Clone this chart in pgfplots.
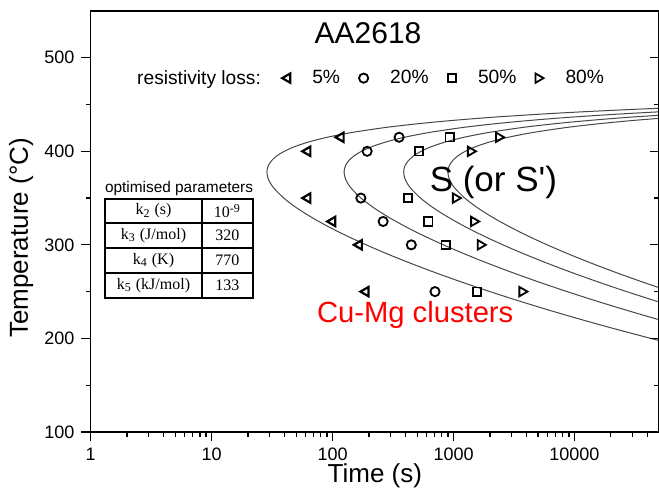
\documentclass[border=0pt]{standalone}
\usepackage{pgfplots}
\pgfplotsset{compat=1.18}
\usepackage{pgfplotstable}
\usepackage{fontspec}
\setmainfont{Liberation Sans}
\newfontfamily\tabfont{Liberation Serif}

% x values are log10(time / s); the axis is labelled 1, 10, 100, ...
% C-curves for 5, 20, 50 and 80 % loss
\pgfplotstableread{
T c1 c2 c3 c4
190 4.9378 5.5763 6.0685 6.4344
200 4.6312 5.2697 5.7619 6.1278
210 4.3389 4.9774 5.4696 5.8355
220 4.0602 4.6987 5.1909 5.5568
230 3.7947 4.4332 4.9254 5.2913
240 3.5417 4.1802 4.6724 5.0383
250 3.3011 3.9396 4.4318 4.7977
260 3.0725 3.7110 4.2032 4.5691
270 2.8557 3.4942 3.9864 4.3523
280 2.6509 3.2894 3.7816 4.1475
290 2.4582 3.0967 3.5889 3.9548
300 2.2779 2.9164 3.4086 3.7745
310 2.1105 2.7490 3.2412 3.6071
320 1.9571 2.5956 3.0878 3.4537
330 1.8190 2.4575 2.9497 3.3156
340 1.6978 2.3363 2.8285 3.1944
350 1.5965 2.2350 2.7272 3.0931
360 1.5188 2.1573 2.6495 3.0154
365 1.4903 2.1288 2.6210 2.9869
370 1.4700 2.1085 2.6007 2.9666
375 1.4589 2.0974 2.5896 2.9555
380 1.4583 2.0968 2.5890 2.9549
385 1.4698 2.1083 2.6005 2.9664
390 1.4956 2.1341 2.6263 2.9922
395 1.5381 2.1766 2.6688 3.0347
400 1.6006 2.2391 2.7313 3.0972
405 1.6871 2.3256 2.8178 3.1837
410 1.8032 2.4417 2.9339 3.2998
415 1.9557 2.5942 3.0864 3.4523
420 2.1541 2.7926 3.2848 3.6507
425 2.4112 3.0497 3.5419 3.9078
427.5 2.5670 3.2055 3.6977 4.0636
430 2.7445 3.3830 3.8752 4.2411
432.5 2.9474 3.5859 4.0781 4.4440
435 3.1793 3.8178 4.3100 4.6759
437 3.3893 4.0278 4.5200 4.8859
440 3.7521 4.3906 4.8828 5.2487
442.5 4.1062 4.7447 5.2369 5.6028
445 4.5171 5.1556 5.6478 6.0137
446 4.7005 5.3390 5.8312 6.1971
447 4.8954 5.5339 6.0261 6.3920
}\ccurves

% measured points
\pgfplotstableread{
lt T
2.069 415
1.794 400
1.794 350
2.000 325
2.220 300
2.275 250
}\lossA
\pgfplotstableread{
lt T
2.550 415
2.286 400
2.234 350
2.418 325
2.651 300
2.847 250
}\lossB
\pgfplotstableread{
lt T
2.968 415
2.715 400
2.624 350
2.791 325
2.935 300
3.195 250
}\lossC
\pgfplotstableread{
lt T
3.374 415
3.141 400
3.017 350
3.168 325
3.223 300
3.567 250
}\lossD

\begin{document}
\begin{tikzpicture}
\begin{axis}[
  name=main,
  scale only axis,
  width=284.2pt, height=210.5pt,
  xmin=0, xmax=4.69897, ymin=100, ymax=550,
  xtick={0,1,2,3,4},
  xticklabels={1,10,100,1000,10000},
  minor xtick={0.30103,0.47712,0.60206,0.69897,0.77815,0.84510,0.90309,0.95424,
    1.30103,1.47712,1.60206,1.69897,1.77815,1.84510,1.90309,1.95424,
    2.30103,2.47712,2.60206,2.69897,2.77815,2.84510,2.90309,2.95424,
    3.30103,3.47712,3.60206,3.69897,3.77815,3.84510,3.90309,3.95424,
    4.30103,4.47712,4.60206},
  ytick={100,200,300,400,500},
  minor ytick={150,250,350,450},
  xtick pos=left, ytick pos=left,
  tick align=outside,
  major tick length=4.6pt, minor tick length=2.3pt,
  tick style={black, line width=0.6pt},
  axis line style={line width=0.6pt},
  /pgf/number format/assume math mode=true,
  tick label style={font=\fontsize{9}{10}\selectfont},
  xlabel={Time (s)},
  ylabel={Temperature (°C)},
  xlabel style={at={(axis description cs:0.5,-0.121)}, anchor=base, font=\fontsize{13}{15}\selectfont},
  ylabel style={at={(axis description cs:-0.1103,0.461)}, anchor=base, font=\fontsize{13}{15}\selectfont},
  legend image code/.code={\draw[#1] plot coordinates {(0pt,0pt)};},
  legend style={draw=none, fill=none, inner sep=0pt, outer sep=0pt,
    legend columns=4, at={(rel axis cs:0.337,0.8405)}, anchor=west,
    nodes={inner sep=0pt, font=\fontsize{9.6}{11}\selectfont},
    /tikz/every odd column/.append style={column sep=11pt},
    /tikz/every even column/.append style={column sep=9.5pt}},
]
\addplot[only marks, black, mark=triangle, mark size=2.7pt,
  mark options={rotate=90, line width=1.1pt}] table[x=lt, y=T] {\lossA};
\addlegendentry{5\%}
\addplot[only marks, black, mark=o, mark size=2.3pt,
  mark options={line width=0.9pt}] table[x=lt, y=T] {\lossB};
\addlegendentry{20\%}
\addplot[only marks, black, mark=square, mark size=2.1pt,
  mark options={line width=0.9pt}] table[x=lt, y=T] {\lossC};
\addlegendentry{50\%}
\addplot[only marks, black, mark=triangle, mark size=2.7pt,
  mark options={rotate=-90, line width=0.9pt}] table[x=lt, y=T] {\lossD};
\addlegendentry{80\%}

\addplot[forget plot, smooth, black!72, line width=0.5pt] table[x=c1, y=T] {\ccurves};
\addplot[forget plot, smooth, black!72, line width=0.5pt] table[x=c2, y=T] {\ccurves};
\addplot[forget plot, smooth, black!72, line width=0.5pt] table[x=c3, y=T] {\ccurves};
\addplot[forget plot, smooth, black!72, line width=0.5pt] table[x=c4, y=T] {\ccurves};

\node[anchor=base, font=\fontsize{15}{17}\selectfont] at (rel axis cs:0.488,0.923) {AA2618};
\node[anchor=base east, font=\fontsize{9.6}{11}\selectfont] at (rel axis cs:0.312,0.8242) {resistivity loss:};
\node[anchor=base west, font=\fontsize{17.5}{20}\selectfont] at (rel axis cs:0.5842,0.5708) {S (or S\textquotesingle)};
\node[anchor=base west, text=red, font=\fontsize{14.6}{17}\selectfont] at (rel axis cs:0.3859,0.2596) {Cu-Mg clusters};

% parameter table
\node[anchor=base, font=\fontsize{7.7}{9}\selectfont] at (rel axis cs:0.1555,0.5677) {optimised parameters};
\draw[line width=0.6pt] (rel axis cs:0.0252,0.5534) rectangle (rel axis cs:0.2856,0.3183);
\draw[line width=0.6pt] (rel axis cs:0.1958,0.5534) -- (rel axis cs:0.1958,0.3183);
\draw[line width=0.6pt] (rel axis cs:0.0252,0.4964) -- (rel axis cs:0.2856,0.4964);
\draw[line width=0.6pt] (rel axis cs:0.0252,0.4371) -- (rel axis cs:0.2856,0.4371);
\draw[line width=0.6pt] (rel axis cs:0.0252,0.3777) -- (rel axis cs:0.2856,0.3777);
\begin{scope}[every node/.style={font=\tabfont\fontsize{8}{9}\selectfont, inner sep=0pt}]
\node at (rel axis cs:0.1105,0.5249) {k\textsubscript{2} (s)};
\node at (rel axis cs:0.2407,0.5249) {10\textsuperscript{-9}};
\node at (rel axis cs:0.1105,0.4668) {k\textsubscript{3} (J/mol)};
\node at (rel axis cs:0.2407,0.4668) {320};
\node at (rel axis cs:0.1105,0.4074) {k\textsubscript{4} (K)};
\node at (rel axis cs:0.2407,0.4074) {770};
\node at (rel axis cs:0.1105,0.3480) {k\textsubscript{5} (kJ/mol)};
\node at (rel axis cs:0.2407,0.3480) {133};
\end{scope}
\end{axis}

% right-hand axis with inward ticks
\begin{axis}[
  at={(main.south west)}, anchor=south west,
  scale only axis,
  width=284.2pt, height=210.5pt,
  xmin=0, xmax=4.69897, ymin=100, ymax=550,
  hide x axis,
  axis y line*=right,
  ytick={100,200,300,400,500},
  minor ytick={150,250,350,450},
  yticklabels={},
  tick align=inside,
  major tick length=4.6pt, minor tick length=2.3pt,
  tick style={black, line width=0.6pt},
  axis line style={line width=0.6pt},
]
\end{axis}

\pgfresetboundingbox
\path[use as bounding box] ([xshift=-45.35pt,yshift=-29.5pt]main.south west) rectangle ([yshift=5.5pt]main.north east);
\end{tikzpicture}
\end{document}
